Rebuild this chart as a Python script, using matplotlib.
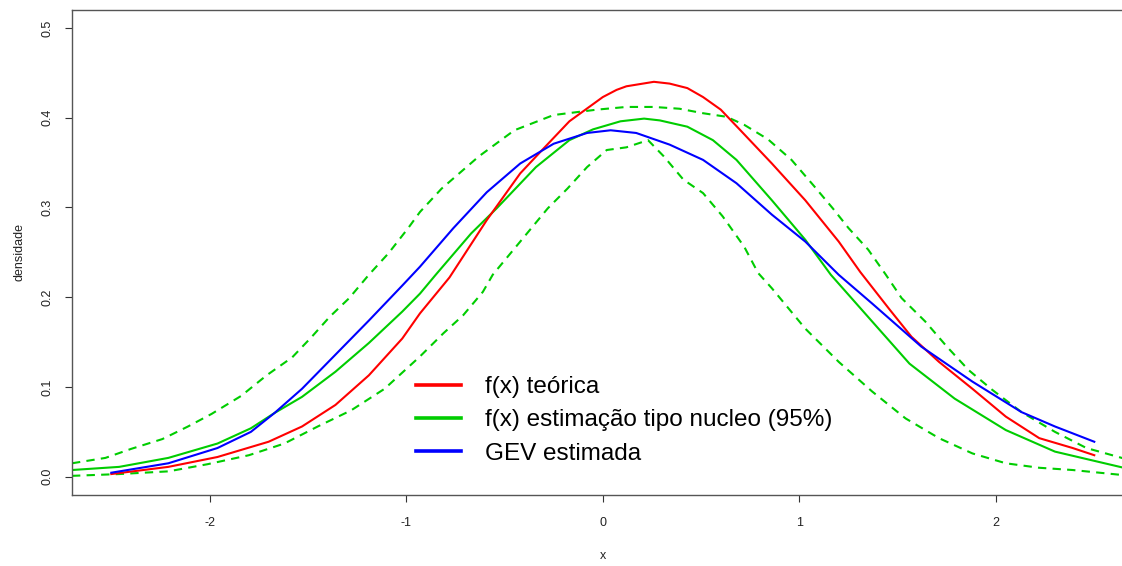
import matplotlib
matplotlib.use("Agg")
import matplotlib.pyplot as plt
from matplotlib.lines import Line2D

plt.rcParams['font.family'] = ['Liberation Sans', 'DejaVu Sans']
plt.rcParams['axes.unicode_minus'] = False

# f(x) teorica
red_x = [-2.50, -2.21, -1.96, -1.70, -1.53, -1.36, -1.19, -1.02, -0.93, -0.78, -0.59, -0.42,
         -0.30, -0.17, 0.00, 0.07, 0.12, 0.26, 0.34, 0.43, 0.51, 0.60, 0.70, 0.86, 1.03, 1.20,
         1.31, 1.46, 1.57, 1.71, 1.88, 2.05, 2.22, 2.39, 2.50]
red_y = [0.003, 0.011, 0.022, 0.039, 0.056, 0.080, 0.113, 0.154, 0.182, 0.222, 0.286, 0.338,
         0.366, 0.396, 0.423, 0.431, 0.435, 0.440, 0.438, 0.433, 0.423, 0.409, 0.386, 0.349, 0.308, 0.262,
         0.228, 0.186, 0.156, 0.128, 0.098, 0.067, 0.043, 0.032, 0.024]

# GEV estimada
blue_x = [-2.50, -2.21, -1.96, -1.79, -1.67, -1.53, -1.36, -1.19, -1.02, -0.93, -0.76, -0.59,
          -0.42, -0.25, -0.08, 0.04, 0.17, 0.34, 0.51, 0.68, 0.86, 1.03, 1.20, 1.37, 1.62,
          1.88, 2.13, 2.30, 2.50]
blue_y = [0.0045, 0.015, 0.032, 0.050, 0.071, 0.098, 0.136, 0.174, 0.213, 0.234, 0.277, 0.317,
          0.349, 0.371, 0.383, 0.386, 0.383, 0.370, 0.353, 0.327, 0.292, 0.262, 0.225, 0.193, 0.145,
          0.106, 0.072, 0.056, 0.039]

# estimacao tipo nucleo
kde_x = [-2.70, -2.46, -2.21, -1.96, -1.79, -1.67, -1.53, -1.36, -1.19, -1.02, -0.93, -0.85,
         -0.67, -0.54, -0.34, -0.17, -0.05, 0.09, 0.21, 0.29, 0.43, 0.56, 0.68, 0.86, 1.03,
         1.16, 1.37, 1.56, 1.79, 2.05, 2.30, 2.64, 2.70]
kde_y = [0.0075, 0.011, 0.021, 0.037, 0.054, 0.071, 0.089, 0.117, 0.149, 0.184, 0.204, 0.225,
         0.271, 0.299, 0.345, 0.375, 0.387, 0.396, 0.399, 0.397, 0.390, 0.375, 0.353, 0.308, 0.264,
         0.225, 0.173, 0.126, 0.087, 0.052, 0.028, 0.0105, 0.009]

# banda 95% superior
up_x = [-2.70, -2.53, -2.40, -2.24, -2.11, -1.99, -1.84, -1.71, -1.58, -1.48, -1.39, -1.29,
        -1.19, -1.09, -0.99, -0.93, -0.82, -0.63, -0.45, -0.25, -0.03, 0.12, 0.26, 0.39,
        0.51, 0.63, 0.72, 0.84, 0.96, 1.07, 1.17, 1.25, 1.35, 1.44, 1.52, 1.64, 1.75, 1.86,
        1.98, 2.13, 2.30, 2.46, 2.64, 2.70]
up_y = [0.015, 0.021, 0.031, 0.042, 0.056, 0.070, 0.090, 0.113, 0.133, 0.156, 0.178, 0.199,
        0.225, 0.249, 0.277, 0.295, 0.321, 0.357, 0.386, 0.403, 0.409, 0.412, 0.412, 0.410,
        0.405, 0.401, 0.392, 0.376, 0.353, 0.325, 0.299, 0.277, 0.253, 0.225, 0.199, 0.173, 0.145, 0.119,
        0.097, 0.072, 0.050, 0.032, 0.021, 0.019]

# banda 95% inferior
lo_x = [-2.70, -2.46, -2.21, -2.01, -1.80, -1.62, -1.45, -1.28, -1.11, -0.93, -0.81, -0.71,
        -0.61, -0.56, -0.42, -0.28, -0.18, -0.08, 0.02, 0.12, 0.23, 0.31, 0.41, 0.51, 0.61,
        0.72, 0.79, 0.86, 1.03, 1.20, 1.37, 1.54, 1.71, 1.88, 2.05, 2.22, 2.39, 2.64, 2.70]
lo_y = [0.001, 0.003, 0.006, 0.014, 0.024, 0.037, 0.056, 0.074, 0.098, 0.134, 0.160, 0.180,
        0.206, 0.225, 0.262, 0.299, 0.321, 0.345, 0.364, 0.367, 0.375, 0.357, 0.331, 0.316, 0.290,
        0.256, 0.227, 0.210, 0.165, 0.128, 0.095, 0.065, 0.043, 0.026, 0.015, 0.010, 0.0075, 0.002, 0.0015]

labels = ['f(x) teórica', 'f(x) estimação tipo nucleo (95%)', 'GEV estimada']
RED, GREEN, BLUE = '#ff0000', '#00cd00', '#0000ff'

fig = plt.figure(figsize=(11.22, 5.66), dpi=100)
ax = fig.add_axes([72 / 1122, 71.3 / 566, 1061.6 / 1122, 484.7 / 566])

ax.plot(lo_x, lo_y, color=GREEN, lw=1.5, ls=(0, (4, 3)))
ax.plot(up_x, up_y, color=GREEN, lw=1.5, ls=(0, (4, 3)))
ax.plot(kde_x, kde_y, color=GREEN, lw=1.5)
ax.plot(red_x, red_y, color=RED, lw=1.5)
ax.plot(blue_x, blue_y, color=BLUE, lw=1.5)

ax.set_xlim(-2.7, 2.7)
ax.set_ylim(-0.02, 0.52)
ax.set_xticks([-2, -1, 0, 1, 2])
ax.set_xticklabels(['-2', '-1', '0', '1', '2'])
ax.set_yticks([0.0, 0.1, 0.2, 0.3, 0.4, 0.5])
ax.set_yticklabels(['0.0', '0.1', '0.2', '0.3', '0.4', '0.5'], rotation=90, va='center')
ax.tick_params(axis='both', length=5, width=0.8, color='#333333', labelsize=9, labelcolor='#222222')
ax.tick_params(axis='x', pad=11)
ax.tick_params(axis='y', pad=8)
for side in ['left', 'top', 'bottom']:
    ax.spines[side].set_color('#555555')
    ax.spines[side].set_linewidth(1.0)
ax.spines['right'].set_visible(False)

ax.set_xlabel('x', fontsize=9, color='#222222', labelpad=15)
ax.set_ylabel('densidade', fontsize=9, color='#222222', labelpad=12)

handles = [Line2D([], [], color=c, lw=2.6) for c in (RED, GREEN, BLUE)]
fig.legend(handles, labels, loc='upper left', bbox_to_anchor=(416 / 1122, 1 - 376 / 566),
           frameon=False, fontsize=17.5, handlelength=1.85, handletextpad=1.0,
           labelspacing=0.47, borderpad=0, borderaxespad=0)

fig.savefig('out.png', dpi=100)
